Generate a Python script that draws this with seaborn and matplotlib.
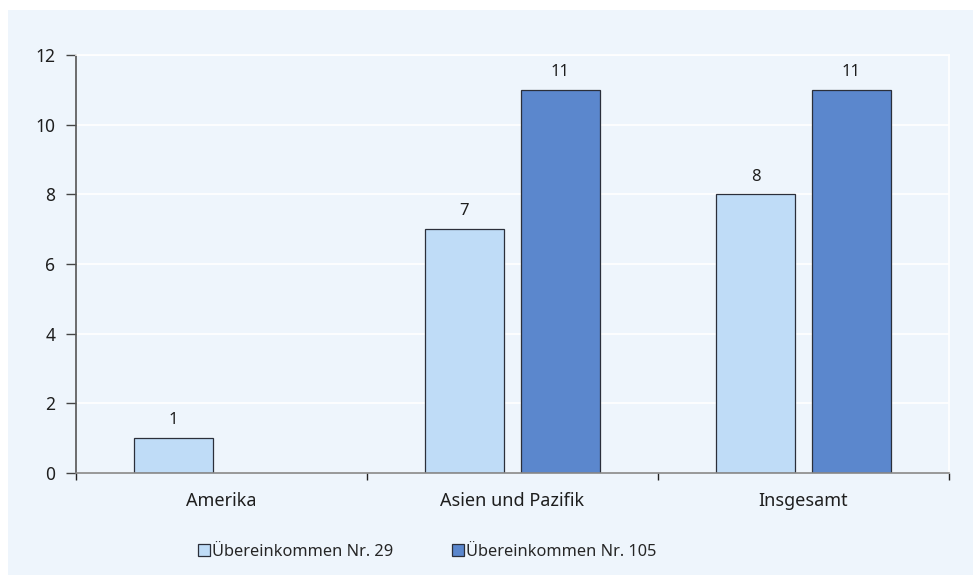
import matplotlib
matplotlib.use("Agg")
import matplotlib.pyplot as plt
import matplotlib.patches as mpatches
import seaborn as sns
import pandas as pd

regions = ["Amerika", "Asien und Pazifik", "Insgesamt"]
series = ["Übereinkommen Nr. 29", "Übereinkommen Nr. 105"]
conv29 = [1, 7, 8]
conv105 = [None, 11, 11]
yticks = [0, 2, 4, 6, 8, 10, 12]
colors = ["#BFDCF7", "#5B87CD"]

df = pd.DataFrame({
    "Region": regions * 2,
    "Serie": [series[0]] * 3 + [series[1]] * 3,
    "Wert": conv29 + conv105,
})

sns.set_theme(style="white")
plt.rcParams["font.family"] = ["Noto Sans", "DejaVu Sans"]

bg = "#EEF5FC"
txt = "#1e1e1e"
fig = plt.figure(figsize=(9.73, 5.75), dpi=100)
fig.patch.set_facecolor("white")
fig.patches.append(mpatches.Rectangle((8 / 973, 0), 1, 1 - 10 / 575,
                                      transform=fig.transFigure,
                                      facecolor=bg, edgecolor="none", zorder=-10))
ax = fig.add_axes([76 / 973, 1 - 473 / 575, (949 - 76) / 973, (473 - 55) / 575])
ax.set_facecolor(bg)

sns.barplot(data=df, x="Region", y="Wert", hue="Serie", order=regions,
            hue_order=series, palette=colors, saturation=1, width=0.66, gap=0.17,
            edgecolor="#2b2f3a", linewidth=0.9, ax=ax, legend=False,
            errorbar=None)

ax.set_xlim(-0.5, 2.5)
ax.set_ylim(0, 12)
ax.set_yticks(yticks)
ax.set_yticklabels([str(t) for t in yticks], fontsize=12.5, color=txt)
ax.set_xlabel("")
ax.set_ylabel("")
ax.tick_params(axis="x", length=0, labelsize=13, labelcolor=txt, pad=14)
ax.tick_params(axis="y", length=7, width=1, color="#444444", pad=8, left=True)
ax.grid(axis="y", color="white", linewidth=1.2)
ax.set_axisbelow(True)

# minor ticks at category boundaries on the x axis
ax.set_xticks([-0.5, 0.5, 1.5, 2.5], minor=True)
ax.tick_params(axis="x", which="minor", length=5, width=1, color="#222222",
               bottom=True, direction="out")

for side in ["top", "right"]:
    ax.spines[side].set_visible(True)
    ax.spines[side].set_color("white")
    ax.spines[side].set_linewidth(1.2)
ax.spines["left"].set_color("#555555")
ax.spines["left"].set_linewidth(1.2)
ax.spines["bottom"].set_color("#888888")
ax.spines["bottom"].set_linewidth(1.2)

for container in ax.containers:
    labels = ["" if (v != v or v == 0) else f"{v:.0f}" for v in container.datavalues]
    ax.bar_label(container, labels=labels, padding=7, fontsize=12, color=txt)

handles = [mpatches.Patch(facecolor=c, edgecolor="#2b2f3a", linewidth=0.9, label=s)
           for c, s in zip(colors, series)]
fig.legend(handles=handles, loc="center", bbox_to_anchor=(427 / 973, 1 - 552 / 575),
           ncol=2, frameon=False, fontsize=11.8, handlelength=0.73, handleheight=0.73,
           handletextpad=0.12, columnspacing=3.6)

fig.savefig("out.png", dpi=100, facecolor=fig.get_facecolor())
